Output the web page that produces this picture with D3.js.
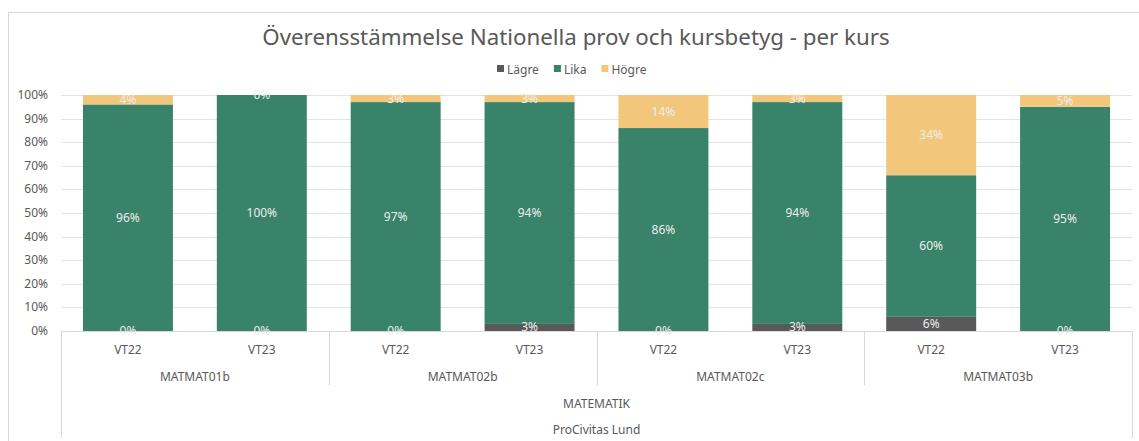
<!DOCTYPE html>
<html><head><meta charset="utf-8">
<script src="https://cdn.jsdelivr.net/npm/d3@7"></script>
<style>body{margin:0;background:#fff;} svg{display:block;font-family:"Noto Sans",sans-serif;}</style>
</head><body><svg id="c" width="1139" height="441"></svg>
<script>
const terms = ["VT22","VT23","VT22","VT23","VT22","VT23","VT22","VT23"];
const courses = ["MATMAT01b","MATMAT02b","MATMAT02c","MATMAT03b"];
const subject = "MATEMATIK";
const school = "ProCivitas Lund";
const seriesNames = ["Lägre","Lika","Högre"];
const lagre = [0,0,0,3,0,3,6,0];
const lika = [96,100,97,94,86,94,60,95];
const hogre = [4,0,3,3,14,3,34,5];
const yTicks = [0,10,20,30,40,50,60,70,80,90,100];
const colors = ["#595959","#38836a","#f2c77c"];

const svg = d3.select("#c");
const L = 61, R = 1132, T = 95, B = 331;
const rows = terms.map((t,i)=>({i, t, Lägre:lagre[i], Lika:lika[i], Högre:hogre[i]}));
const x = d3.scaleBand().domain(d3.range(terms.length)).range([L,R]).paddingInner(0.328).paddingOuter(0.164);
const y = d3.scaleLinear().domain([0,100]).range([B,T]);

// frame
svg.append("rect").attr("x",8.5).attr("y",12.5).attr("width",1140).attr("height",440)
  .attr("fill","none").attr("stroke","#d9d9d9");

// title
svg.append("text").attr("x",576).attr("y",45).attr("text-anchor","middle")
  .attr("font-size",22.3).attr("fill","#595959").text("Överensstämmelse Nationella prov och kursbetyg - per kurs");

// legend
const lg = svg.append("g");
let lx = 497;
seriesNames.forEach((n,k)=>{
  lg.append("rect").attr("x",lx).attr("y",65).attr("width",7).attr("height",7).attr("fill",colors[k]);
  const t = lg.append("text").attr("x",lx+10).attr("y",73.5).attr("font-size",12).attr("fill","#595959").text(n);
  lx += 10 + t.node().getComputedTextLength() + 15;
});

// gridlines & y labels
const ya = svg.append("g");
yTicks.forEach(v=>{
  ya.append("line").attr("x1",L).attr("x2",R).attr("y1",Math.round(y(v))+0.5).attr("y2",Math.round(y(v))+0.5)
    .attr("stroke","#e3e3e3").attr("stroke-width",1);
  ya.append("text").attr("x",48).attr("y",y(v)+4).attr("text-anchor","end").attr("font-size",12)
    .attr("fill","#595959").text(v+"%");
});

// bars
const stack = d3.stack().keys(seriesNames)(rows);
stack.forEach((s,k)=>{
  svg.append("g").attr("fill",colors[k]).selectAll("rect").data(s).join("rect")
    .attr("x",(d,i)=>x(i)).attr("width",x.bandwidth())
    .attr("y",d=>y(d[1])).attr("height",d=>y(d[0])-y(d[1]));
});
stack.forEach((s,k)=>{
  svg.append("g").selectAll("text").data(s).join("text")
    .attr("x",(d,i)=>x(i)+x.bandwidth()/2).attr("y",d=>(y(d[0])+y(d[1]))/2+4)
    .attr("text-anchor","middle").attr("font-size",12).attr("fill","#ededed")
    .text(d=>(d[1]-d[0])+"%");
});

// categorical axis
const ax = svg.append("g").attr("stroke","#d9d9d9");
ax.append("line").attr("x1",L).attr("x2",R).attr("y1",331.5).attr("y2",331.5);
ax.append("line").attr("x1",L+0.5).attr("x2",L+0.5).attr("y1",331).attr("y2",438);
ax.append("line").attr("x1",R+0.5).attr("x2",R+0.5).attr("y1",331).attr("y2",438);
const step = x.step();
const groupW = step*2;
for(let g=1; g<courses.length; g++){
  const gx = Math.round(L + g*groupW)+0.5;
  ax.append("line").attr("x1",gx).attr("x2",gx).attr("y1",331).attr("y2",385);
}

const tx = svg.append("g").attr("font-size",12).attr("fill","#595959").attr("text-anchor","middle");
terms.forEach((t,i)=>tx.append("text").attr("x",x(i)+x.bandwidth()/2).attr("y",354).text(t));
courses.forEach((c,g)=>tx.append("text").attr("x",L+groupW*(g+0.5)).attr("y",381).text(c));
tx.append("text").attr("x",(L+R)/2).attr("y",408).text(subject);
tx.append("text").attr("x",(L+R)/2).attr("y",434).text(school);
</script></body></html>
